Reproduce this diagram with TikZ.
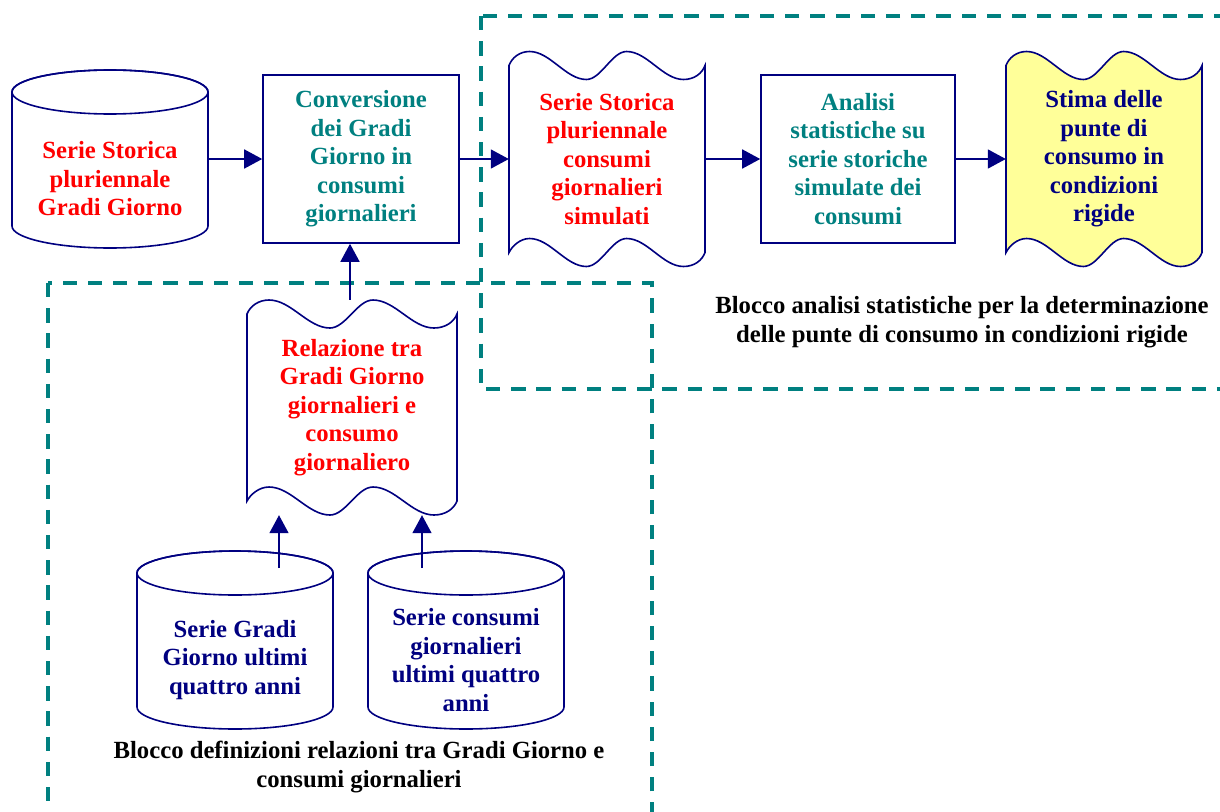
\documentclass[tikz,border=0pt]{standalone}
\usepackage{fontspec}
\setmainfont{Liberation Serif}
\usepackage{tikz}
\usetikzlibrary{calc, positioning, arrows.meta}

\definecolor{flownavy}{HTML}{000080}
\definecolor{tealtext}{HTML}{008080}
\definecolor{redtext}{HTML}{FF0000}
\definecolor{blockteal}{HTML}{008080}
\definecolor{yellowfill}{HTML}{FFFF99}

\tikzset{
  outline/.style={draw=flownavy, line width=1.6pt},
  flow/.style={draw=flownavy, line width=1.6pt, -{Triangle[length=18pt, width=19pt]}},
  blockline/.style={draw=blockteal, line width=3.3pt, dash pattern=on 14.3pt off 10.9pt},
  lbl/.style={font=\bfseries\fontsize{24.7}{28.5}\selectfont, align=center, inner sep=0pt},
  procbox/.style={lbl, outline, minimum width=196pt, minimum height=168pt},
  drumbox/.style={minimum width=196pt, minimum height=178pt, inner sep=0pt},
  tapebox/.style={lbl, minimum height=215pt},
}

% cylinder: name, left x, top y, text colour, text
\newcommand{\drum}[5]{%
  \draw[outline] (#2,#3+22) -- (#2,#3+156)
    arc[start angle=180, end angle=360, x radius=98pt, y radius=22pt]
    -- (#2+196,#3+22)
    arc[start angle=0, end angle=180, x radius=98pt, y radius=22pt] -- cycle;
  \draw[outline] (#2+98,#3+22) ellipse[x radius=98pt, y radius=22pt];
  \node[drumbox] (#1) at (#2+98,#3+89) {};
  \node[lbl, text=#4] at (#2+98,#3+109) {#5};
}

% punched tape: [fill] name, left x, top y, width, text colour, text
\newcommand{\tape}[7][white]{%
  \filldraw[outline, fill=#1, shift={(#3,#4)}, x=#5pt]
    (0,14) .. controls (0.015,6) and (0.055,0) .. (0.105,0)
    .. controls (0.21,0) and (0.29,28) .. (0.395,28)
    .. controls (0.47,28) and (0.525,0) .. (0.6,0)
    .. controls (0.705,0) and (0.785,28) .. (0.89,28)
    .. controls (0.945,28) and (0.985,22) .. (1,14)
    -- (1,201)
    .. controls (0.985,209) and (0.945,215) .. (0.89,215)
    .. controls (0.785,215) and (0.705,187) .. (0.6,187)
    .. controls (0.525,187) and (0.47,215) .. (0.395,215)
    .. controls (0.29,215) and (0.21,187) .. (0.105,187)
    .. controls (0.055,187) and (0.015,195) .. (0,201)
    -- cycle;
  \node[tapebox, minimum width=#5pt, text=#6] (#2) at (#3+#5/2,#4+107.5) {#7};
}

\begin{document}
\begin{tikzpicture}[x=1pt, y=-1pt]
  \useasboundingbox (0,0) rectangle (1220,811);

  % blocks
  \draw[blockline] (481,16) rectangle (1250,389);
  \draw[blockline] (48,283) rectangle (652,840);

  % top row
  \drum{serieGG}{12}{70}{redtext}{Serie Storica\\pluriennale\\Gradi Giorno}
  \node[procbox, text=tealtext] (conv) at (361,159) {Conversione\\dei Gradi\\Giorno in\\consumi\\giornalieri};
  \tape{serieSim}{509}{51.5}{196}{redtext}{Serie Storica\\pluriennale\\consumi\\giornalieri\\simulati}
  \node[procbox, minimum width=194pt, text=tealtext] (analisi) at (858,159) {Analisi\\statistiche su\\serie storiche\\simulate dei\\consumi};
  \tape[yellowfill]{stima}{1006}{51.5}{196}{flownavy}{Stima delle\\punte di\\consumo in\\condizioni\\rigide}

  % lower block
  \tape{relaz}{247}{300}{210}{redtext}{Relazione tra\\Gradi Giorno\\giornalieri e\\consumo\\giornaliero}
  \drum{serieA}{137}{551}{flownavy}{Serie Gradi\\Giorno ultimi\\quattro anni}
  \drum{serieB}{368}{551}{flownavy}{Serie consumi\\giornalieri\\ultimi quattro\\anni}
  \coordinate (inA) at (279,568);
  \coordinate (inB) at (422,568);

  % connectors
  \draw[flow] (serieGG.east) -- (serieGG.east -| conv.west);
  \draw[flow] (conv.east) -- (conv.east -| serieSim.west);
  \draw[flow] (serieSim.east) -- (serieSim.east -| analisi.west);
  \draw[flow] (analisi.east) -- (analisi.east -| stima.west);
  \draw[flow] ([xshift=-2pt]relaz.north) -- ([xshift=-2pt]relaz.north |- conv.south);
  \draw[flow] (inA) -- (inA |- relaz.south);
  \draw[flow] (inB) -- (inB |- relaz.south);

  % captions
  \node[lbl] (capDef) at (359,767) {Blocco definizioni relazioni tra Gradi Giorno e\\consumi giornalieri};
  \node[lbl] (capAn) at (962,322) {Blocco analisi statistiche per la determinazione\\delle punte di consumo in condizioni rigide};
\end{tikzpicture}
\end{document}
